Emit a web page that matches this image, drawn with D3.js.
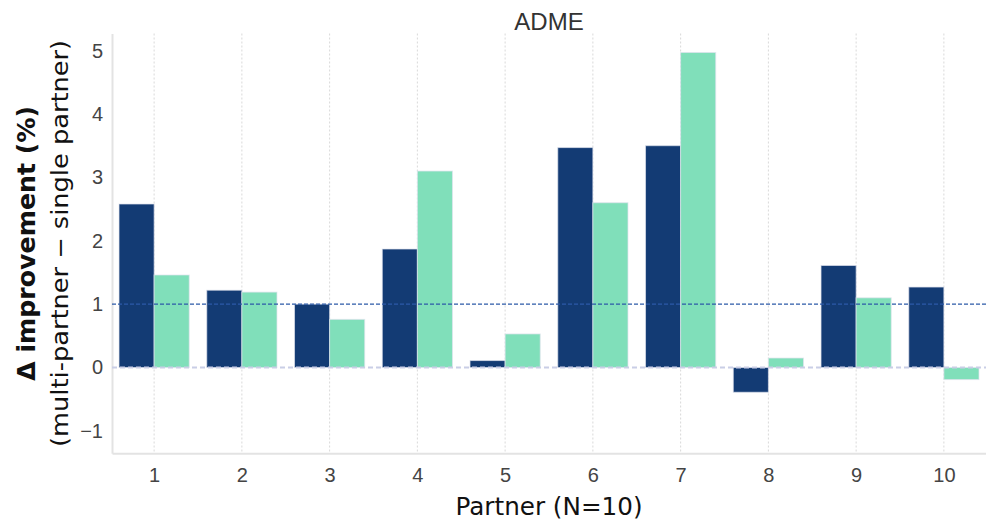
<!DOCTYPE html>
<html>
<head>
<meta charset="utf-8">
<script src="https://cdn.jsdelivr.net/npm/d3@7"></script>
<style>
  body { margin: 0; background: #fff; }
</style>
</head>
<body>
<svg id="chart" width="986" height="520"></svg>
<script>
// values
var partners = [1, 2, 3, 4, 5, 6, 7, 8, 9, 10];
var multiPartner = [2.58, 1.22, 1.00, 1.87, 0.11, 3.47, 3.50, -0.39, 1.61, 1.27];
var singlePartner = [1.46, 1.19, 0.76, 3.10, 0.53, 2.60, 4.97, 0.15, 1.10, -0.19];
var yTicks = [-1, 0, 1, 2, 3, 4, 5];
var refLine = 1;

var svg = d3.select('#chart');
var plotLeft = 112, plotRight = 986, plotTop = 33.5, plotBottom = 453.3;
var barWidth = 0.4;
var labelFont = '"DejaVu Sans", "Noto Sans", sans-serif';

var xScale = d3.scaleLinear().domain([0.52, 10.48]).range([plotLeft, plotRight]);
var yScale = d3.scaleLinear().domain([-1.353, 5.27]).range([plotBottom, plotTop]);

// vertical dotted grid
svg.append('g').selectAll('line')
    .data(partners).enter()
    .append('line')
    .attr('x1', function (d) { return xScale(d) })
    .attr('x2', function (d) { return xScale(d) })
    .attr('y1', plotTop)
    .attr('y2', plotBottom)
    .attr('stroke', '#d9d9d9')
    .attr('stroke-width', 1)
    .attr('stroke-dasharray', '2,2');

// axes
svg.append('g')
    .attr('transform', 'translate(' + plotLeft + ',0)')
    .call(d3.axisLeft(yScale).tickValues(yTicks).tickSize(0).tickPadding(9)
        .tickFormat(function (d) { return d < 0 ? '\u2212' + Math.abs(d) : d }));
svg.append('g')
    .attr('transform', 'translate(0,' + plotBottom + ')')
    .call(d3.axisBottom(xScale).tickValues(partners).tickSize(0).tickPadding(15));
svg.selectAll('.domain').attr('stroke', '#e3e3e3').attr('stroke-width', 2);
svg.selectAll('.tick text')
    .attr('font-family', '"Liberation Sans", Arial, sans-serif')
    .attr('font-size', 20)
    .attr('fill', '#444');

// bars
function drawBars(values, offset, color) {
    svg.append('g').selectAll('rect')
        .data(values).enter()
        .append('rect')
        .attr('x', function (d, i) { return xScale(partners[i] + offset) })
        .attr('width', xScale(barWidth) - xScale(0))
        .attr('y', function (d) { return yScale(Math.max(d, 0)) })
        .attr('height', function (d) { return Math.abs(yScale(d) - yScale(0)) })
        .attr('fill', color)
        .attr('stroke', '#dfe3ee')
        .attr('stroke-opacity', 0.7)
        .attr('stroke-width', 1);
}
drawBars(multiPartner, -barWidth, '#133b74');
drawBars(singlePartner, 0, '#80dfba');

// reference lines
svg.append('line')
    .attr('x1', plotLeft).attr('x2', plotRight)
    .attr('y1', yScale(0)).attr('y2', yScale(0))
    .attr('stroke', '#c9cee6')
    .attr('stroke-width', 2)
    .attr('stroke-dasharray', '5,3');
svg.append('line')
    .attr('x1', plotLeft).attr('x2', plotRight)
    .attr('y1', yScale(refLine)).attr('y2', yScale(refLine))
    .attr('stroke', '#2c5aa8')
    .attr('stroke-width', 1.2)
    .attr('stroke-dasharray', '4,2');

// title and labels
svg.append('text')
    .attr('x', (plotLeft + plotRight) / 2)
    .attr('y', 30)
    .attr('text-anchor', 'middle')
    .attr('font-family', '"Liberation Sans", Arial, sans-serif')
    .attr('font-size', 24)
    .attr('fill', '#333')
    .text('ADME');

svg.append('text')
    .attr('x', (plotLeft + plotRight) / 2)
    .attr('y', 515)
    .attr('text-anchor', 'middle')
    .attr('font-family', labelFont)
    .attr('font-size', 24)
    .attr('textLength', 187)
    .attr('lengthAdjust', 'spacingAndGlyphs')
    .attr('fill', '#111')
    .text('Partner (N=10)');

var yMid = (plotTop + plotBottom) / 2;
svg.append('text')
    .attr('transform', 'translate(35,' + yMid + ') rotate(-90)')
    .attr('text-anchor', 'middle')
    .attr('font-family', labelFont)
    .attr('font-weight', 'bold')
    .attr('font-size', 25)
    .attr('textLength', 275)
    .attr('lengthAdjust', 'spacingAndGlyphs')
    .attr('fill', '#111')
    .text('\u0394 improvement (%)');
svg.append('text')
    .attr('transform', 'translate(68,' + yMid + ') rotate(-90)')
    .attr('text-anchor', 'middle')
    .attr('font-family', labelFont)
    .attr('font-size', 23)
    .attr('textLength', 407)
    .attr('lengthAdjust', 'spacingAndGlyphs')
    .attr('fill', '#111')
    .text('(multi-partner \u2212 single partner)');
</script>
</body>
</html>
